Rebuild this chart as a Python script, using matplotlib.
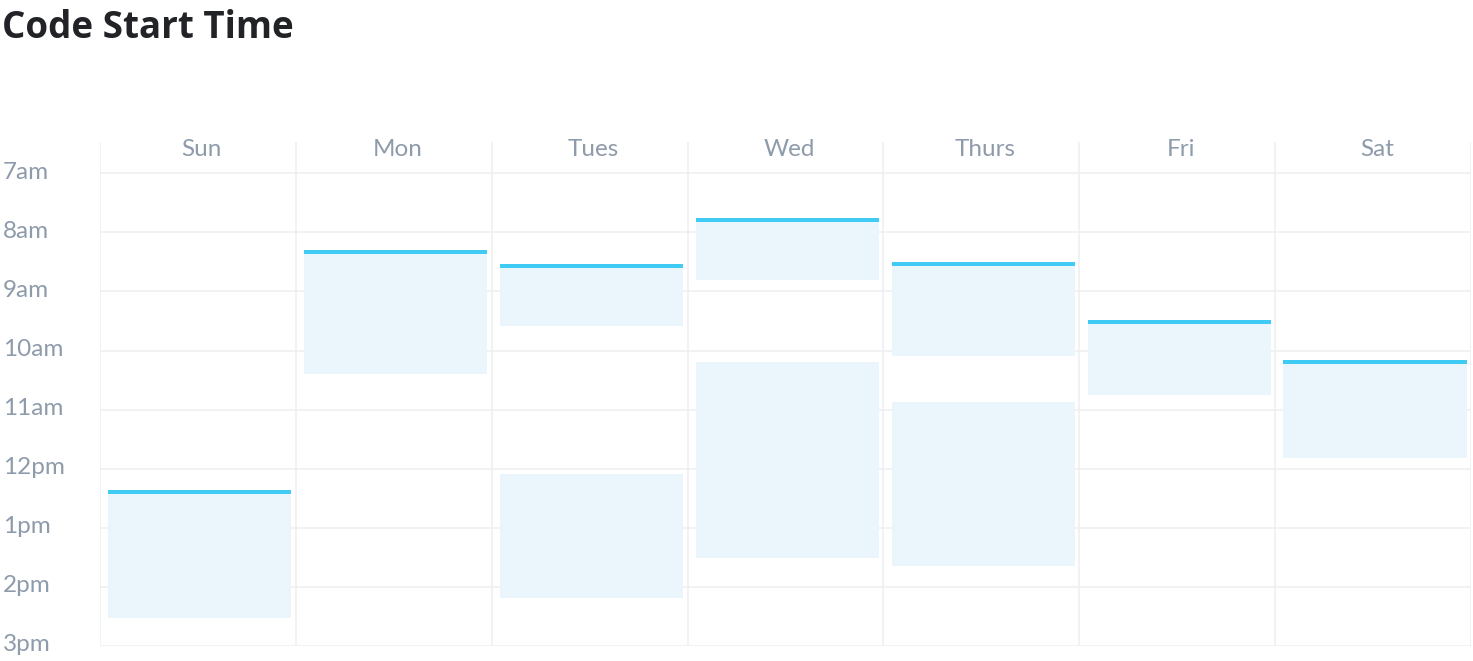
import matplotlib
matplotlib.use("Agg")
import matplotlib.pyplot as plt
import matplotlib.transforms as mtransforms

# ---- data ----
days = ["Sun", "Mon", "Tues", "Wed", "Thurs", "Fri", "Sat"]
hour_ticks = [7, 8, 9, 10, 11, 12, 13, 14, 15]
hour_labels = ["7am", "8am", "9am", "10am", "11am", "12pm", "1pm", "2pm", "3pm"]

# coding sessions: day index, start hour, end hour, whether the start is marked
block_day = [0, 1, 2, 2, 3, 3, 4, 4, 5, 6]
block_start = [12.36, 8.30, 8.53, 12.09, 7.76, 10.19, 8.50, 10.87, 9.48, 10.16]
block_end = [14.52, 10.39, 9.58, 14.18, 8.80, 13.51, 10.09, 13.64, 10.76, 11.81]
block_marked = [True, True, True, False, True, False, True, False, True, True]

# ---- style ----
W, H = 1473, 661
GRID = "#EEEFF1"
FILL = "#EAF6FC"
LINE = "#3FCBF3"
LABEL = "#8E9BAB"
TITLE = "#222327"
FONT = ["Lato", "DejaVu Sans"]

fig = plt.figure(figsize=(W / 100, H / 100), dpi=100)
ax = fig.add_axes([100 / W, (H - 646) / H, 1371 / W, 504 / H])
y_top = 6.47
ax.set_xlim(0, len(days))
ax.set_ylim(15, y_top)
ax.axis("off")

# grid
ax.hlines(hour_ticks, 0, len(days), color=GRID, lw=1.1, zorder=1)
ax.vlines(range(len(days) + 1), y_top, 15, color=GRID, lw=1.1, zorder=1)

# blocks
bw = 0.935
for d, s, e, m in zip(block_day, block_start, block_end, block_marked):
    ax.bar(d + 0.51, e - s, bottom=s, width=bw, color=FILL, zorder=2, linewidth=0)
    if m:
        ax.bar(d + 0.51, 0.068, bottom=s, width=bw, color=LINE, zorder=3, linewidth=0)

# day labels
for i, d in enumerate(days):
    ax.text(i + 0.52, 6.70, d, ha="center", va="baseline", fontsize=17.5,
            color=LABEL, family=FONT)

# hour labels
trans = mtransforms.blended_transform_factory(fig.transFigure, ax.transData) + \
    mtransforms.ScaledTranslation(0, -5.2 / 100, fig.dpi_scale_trans)
for h, lab in zip(hour_ticks, hour_labels):
    ax.text(3 / W, h, lab, transform=trans, ha="left", va="baseline",
            fontsize=17.5, color=LABEL, family=FONT, clip_on=False)

# title
fig.text(2 / W, (H - 38.3) / H, "Code Start Time", fontsize=26.5,
         fontweight="bold", family=["Open Sans", "DejaVu Sans"], color=TITLE,
         va="baseline", ha="left")

fig.savefig("out.png", dpi=100, facecolor="white")
